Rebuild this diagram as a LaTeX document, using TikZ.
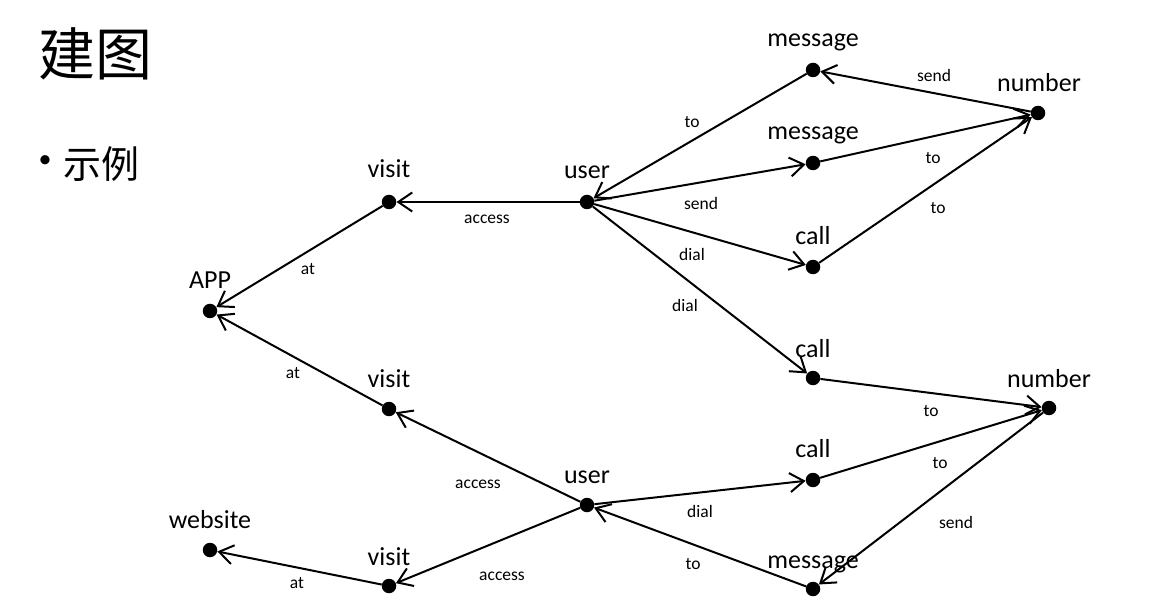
\documentclass[tikz,border=0pt]{standalone}
\usepackage{fontspec}
\setmainfont{Carlito}
\newfontfamily\cjk{Noto Sans CJK SC}
\usetikzlibrary{arrows.meta}
\tikzset{
  dotnode/.style={circle, fill=black, inner sep=0pt, minimum size=14.5pt},
  nlab/.style={anchor=base, font=\fontsize{26}{30}\selectfont, inner sep=0pt},
  elab/.style={font=\fontsize{17.5}{20}\selectfont, inner sep=0pt},
  arr/.style={-{Straight Barb[length=14pt,width=19pt]}, line width=2pt},
}
\begin{document}
\begin{tikzpicture}[x=1pt,y=-1pt]
\useasboundingbox (0,0) rectangle (1156,609);
% title
\node[font=\cjk\fontsize{57}{60}\selectfont, inner sep=0pt] (title) at (95,54) {建图};
\node[font=\fontsize{26}{30}\selectfont, inner sep=0pt] (bullet) at (45,162) {•};
\node[font=\cjk\fontsize{38}{40}\selectfont, inner sep=0pt] (ex) at (101,164) {示例};
% dots
\node[dotnode] (v1) at (389,202) {};
\node[dotnode] (u1) at (587,202) {};
\node[dotnode] (m1) at (813,70) {};
\node[dotnode] (m2) at (813,163) {};
\node[dotnode] (n1) at (1038,113) {};
\node[dotnode] (c1) at (813,267) {};
\node[dotnode] (c2) at (813,378) {};
\node[dotnode] (n2) at (1049,408) {};
\node[dotnode] (c3) at (813,480) {};
\node[dotnode] (m3) at (813,589) {};
\node[dotnode] (u2) at (587,505) {};
\node[dotnode] (v2) at (389,409) {};
\node[dotnode] (app) at (210,311) {};
\node[dotnode] (web) at (210,550) {};
\node[dotnode] (v3) at (389,586) {};
% dot labels
\node[nlab] (lv1) at (389,178) {visit};
\node[nlab] (lu1) at (587,179) {user};
\node[nlab] (lm1) at (813,47) {message};
\node[nlab] (lm2) at (813,140) {message};
\node[nlab] (ln1) at (1039,92) {number};
\node[nlab] (lc1) at (813,245) {call};
\node[nlab] (lc2) at (813,357) {call};
\node[nlab] (ln2) at (1049,387) {number};
\node[nlab] (lc3) at (813,457) {call};
\node[nlab] (lm3) at (813,568) {message};
\node[nlab] (lu2) at (587,483) {user};
\node[nlab] (lv2) at (389,387) {visit};
\node[nlab] (lapp) at (210,289) {APP};
\node[nlab] (lweb) at (210,528) {website};
\node[nlab] (lv3) at (389,565) {visit};
% edges
\draw[arr] (u1) -- (v1);
\draw[arr] (v1) -- (app);
\draw[arr] (m1) -- (u1);
\draw[arr] (n1) -- (m1);
\draw[arr] (u1) -- (m2);
\draw[arr] (m2) -- (n1);
\draw[arr] (u1) -- (c1);
\draw[arr] (c1) -- (n1);
\draw[arr] (u1) -- (c2);
\draw[arr] (c2) -- (n2);
\draw[arr] (u2) -- (v2);
\draw[arr] (v2) -- (app);
\draw[arr] (u2) -- (c3);
\draw[arr] (c3) -- (n2);
\draw[arr] (m3) -- (u2);
\draw[arr] (n2) -- (m3);
\draw[arr] (u2) -- (v3);
\draw[arr] (v3) -- (web);
% edge labels
\node[elab] (e1) at (487,219) {access};
\node[elab] (e2) at (308,269) {at};
\node[elab] (e3) at (692,122) {to};
\node[elab] (e4) at (934,75) {send};
\node[elab] (e5) at (701,203) {send};
\node[elab] (e6) at (933,158) {to};
\node[elab] (e7) at (692,254) {dial};
\node[elab] (e8) at (938,208) {to};
\node[elab] (e9) at (685,305) {dial};
\node[elab] (e10) at (931,411) {to};
\node[elab] (e11) at (478,484) {access};
\node[elab] (e12) at (293,373) {at};
\node[elab] (e13) at (700,511) {dial};
\node[elab] (e14) at (940,463) {to};
\node[elab] (e15) at (693,564) {to};
\node[elab] (e16) at (956,522) {send};
\node[elab] (e17) at (502,576) {access};
\node[elab] (e18) at (297,583) {at};
\end{tikzpicture}
\end{document}
